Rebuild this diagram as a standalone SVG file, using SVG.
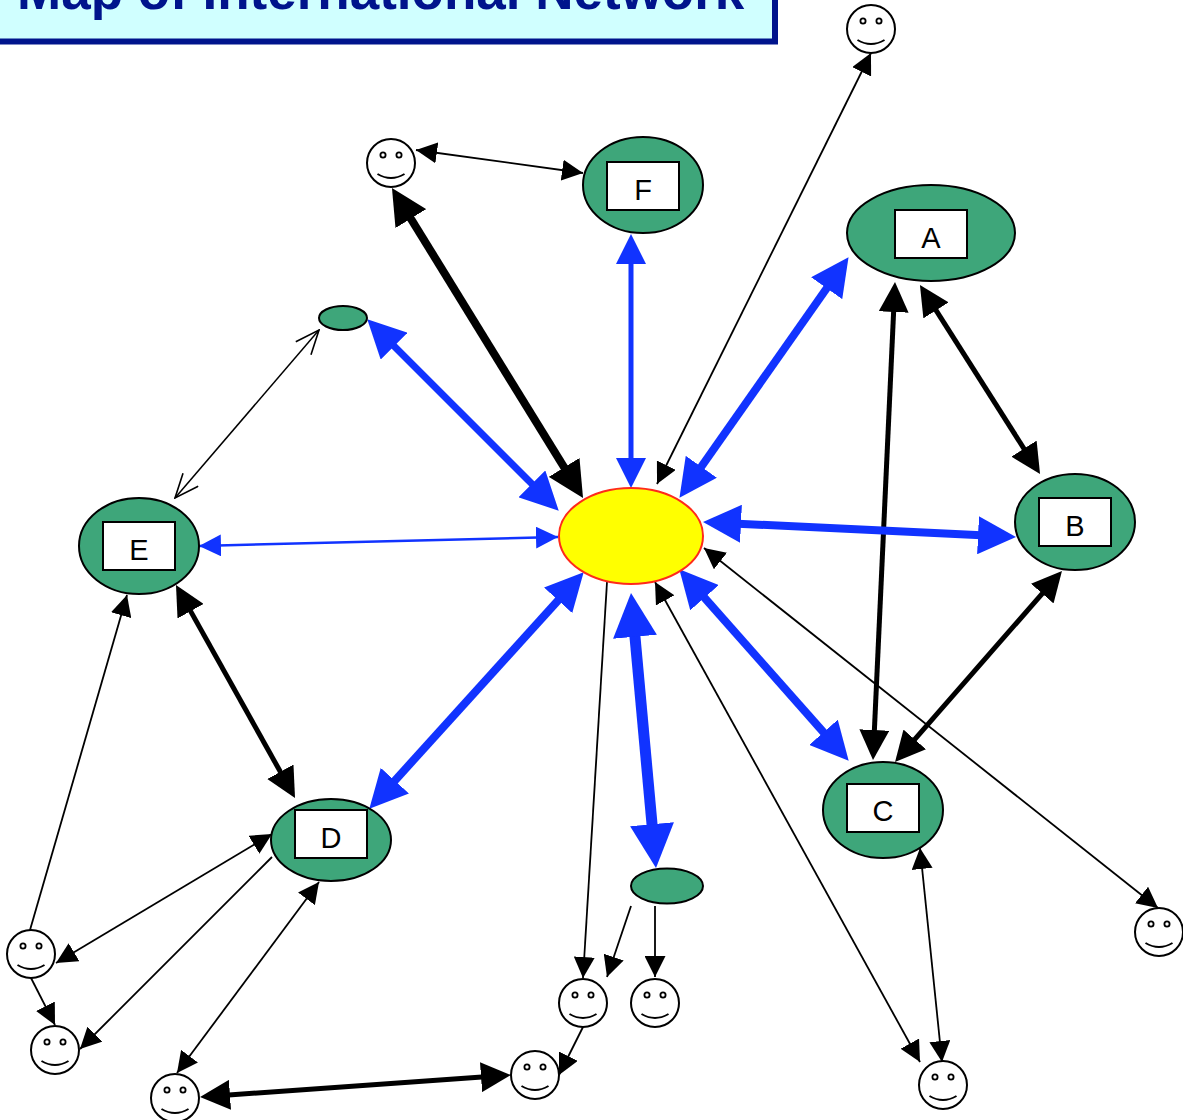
<svg xmlns="http://www.w3.org/2000/svg" width="1183" height="1120" viewBox="0 0 1183 1120">
<style>
.n{fill:#3ea67a;stroke:#000;stroke-width:2}
.b{fill:#fff;stroke:#000;stroke-width:2}
.t{font-family:"Liberation Sans",Arial,sans-serif;font-size:29px;fill:#000;text-anchor:middle}
.k{fill:none;stroke:#000}
.u{fill:none;stroke:#1133ff}
.s{stroke-width:1.8;marker-end:url(#k20);marker-start:url(#k20)}
.o{stroke-width:1.8;marker-end:url(#k20)}
.m{stroke-width:5;marker-end:url(#k30);marker-start:url(#k30)}
</style>
<defs>
<marker id="k20" markerUnits="userSpaceOnUse" markerWidth="21" markerHeight="21" viewBox="0 0 20 20" refX="20" refY="10" orient="auto-start-reverse"><path d="M0 0L20 10L0 20z" fill="#000"/></marker>
<marker id="k30" markerUnits="userSpaceOnUse" markerWidth="30" markerHeight="30" viewBox="0 0 30 30" refX="15" refY="15" orient="auto-start-reverse"><path d="M0 0L30 15L0 30z" fill="#000"/></marker>
<marker id="k36" markerUnits="userSpaceOnUse" markerWidth="36" markerHeight="36" viewBox="0 0 36 36" refX="18" refY="18" orient="auto-start-reverse"><path d="M0 0L36 18L0 36z" fill="#000"/></marker>
<marker id="u20" markerUnits="userSpaceOnUse" markerWidth="22" markerHeight="22" viewBox="0 0 20 20" refX="20" refY="10" orient="auto-start-reverse"><path d="M0 0L20 10L0 20z" fill="#1133ff"/></marker>
<marker id="u30" markerUnits="userSpaceOnUse" markerWidth="30" markerHeight="30" viewBox="0 0 30 30" refX="15" refY="15" orient="auto-start-reverse"><path d="M0 0L30 15L0 30z" fill="#1133ff"/></marker>
<marker id="u36" markerUnits="userSpaceOnUse" markerWidth="38" markerHeight="38" viewBox="0 0 36 36" refX="18" refY="18" orient="auto-start-reverse"><path d="M0 0L36 18L0 36z" fill="#1133ff"/></marker>
<marker id="u44" markerUnits="userSpaceOnUse" markerWidth="44" markerHeight="44" viewBox="0 0 44 44" refX="22" refY="22" orient="auto-start-reverse"><path d="M0 0L44 22L0 44z" fill="#1133ff"/></marker>
<marker id="open" markerUnits="userSpaceOnUse" markerWidth="26" markerHeight="22" viewBox="0 0 26 22" refX="25" refY="11" orient="auto-start-reverse"><path d="M1 1L25 11L1 21" fill="none" stroke="#000" stroke-width="1.6"/></marker>
<g id="smile">
<circle r="24" fill="#fff" stroke="#000" stroke-width="2"/>
<circle cx="-8" cy="-8" r="2.600" fill="#fff" stroke="#000" stroke-width="1.800"/>
<circle cx="8" cy="-8" r="2.600" fill="#fff" stroke="#000" stroke-width="1.800"/>
<path d="M-13.500 11Q0 19 13.500 11" fill="none" stroke="#000" stroke-width="2"/>
</g>
</defs>
<g id="title">
<rect x="-6" y="-30" width="781" height="71.500" fill="#d0ffff" stroke="#00148c" stroke-width="6"/>
<text x="17" y="9" font-family="'Liberation Sans',Arial,sans-serif" font-size="53" font-weight="bold" fill="#00148c">Map of International Network</text>
</g>
<g id="connectors">
<line class="k s" x1="416" y1="150" x2="583" y2="173"/>
<line class="k s" x1="871" y1="53" x2="657" y2="484"/>
<line class="k s" x1="704" y1="548" x2="1158" y2="908"/>
<line class="k s" x1="655" y1="582" x2="920" y2="1062"/>
<line class="k s" x1="920" y1="848" x2="942" y2="1062"/>
<line class="k" stroke-width="1.800" marker-start="url(#k20)" x1="127" y1="595" x2="30" y2="930"/>
<line class="k s" x1="272" y1="834" x2="56" y2="963"/>
<line class="k o" x1="272" y1="857" x2="80" y2="1049"/>
<line class="k s" x1="319" y1="882" x2="177" y2="1073"/>
<line class="k o" x1="31" y1="978" x2="55" y2="1025"/>
<line class="k o" x1="607" y1="582" x2="583" y2="978"/>
<line class="k o" x1="631" y1="906" x2="607" y2="977"/>
<line class="k o" x1="655" y1="906" x2="655" y2="977"/>
<line class="k o" x1="583" y1="1027" x2="559" y2="1075"/>
<line class="k" stroke-width="1.500" marker-start="url(#open)" marker-end="url(#open)" x1="319" y1="330" x2="175" y2="498"/>
<line class="k m" x1="894.300" y1="297" x2="873.700" y2="745"/>
<line class="k m" x1="928" y1="297.700" x2="1032" y2="461.300"/>
<line class="k m" x1="1052.100" y1="582.300" x2="904.900" y2="750.700"/>
<line class="k m" x1="183.300" y1="598.100" x2="287.700" y2="784.900"/>
<line class="k m" x1="215" y1="1095.900" x2="496" y2="1076.100"/>
<line class="k" stroke-width="8" marker-start="url(#k36)" marker-end="url(#k36)" x1="401.400" y1="203.300" x2="573.600" y2="482.700"/>
<line class="u" stroke-width="2.500" marker-start="url(#u20)" marker-end="url(#u20)" x1="199" y1="546" x2="558" y2="537"/>
<line class="u" stroke-width="5" marker-start="url(#u30)" marker-end="url(#u30)" x1="631" y1="249" x2="631" y2="473"/>
<line class="u" stroke-width="8" marker-start="url(#u36)" marker-end="url(#u36)" x1="837.600" y1="272.700" x2="690.400" y2="482.300"/>
<line class="u" stroke-width="7" marker-start="url(#u36)" marker-end="url(#u36)" x1="380.700" y1="332.700" x2="545.300" y2="497.300"/>
<line class="u" stroke-width="8" marker-start="url(#u36)" marker-end="url(#u36)" x1="722" y1="522.900" x2="997" y2="536.100"/>
<line class="u" stroke-width="8" marker-start="url(#u36)" marker-end="url(#u36)" x1="570.900" y1="586.300" x2="382.100" y2="794.700"/>
<line class="u" stroke-width="8" marker-start="url(#u36)" marker-end="url(#u36)" x1="691.900" y1="583.500" x2="836.100" y2="746.500"/>
<line class="u" stroke-width="11" marker-start="url(#u44)" marker-end="url(#u44)" x1="633" y1="614.900" x2="654" y2="846.100"/>
</g>
<g id="hub"><ellipse cx="631" cy="536" rx="72" ry="48" fill="#ffff00" stroke="#ff2a1a" stroke-width="2"/></g>
<g id="node-a"><ellipse class="n" cx="931" cy="233" rx="84" ry="48"/><rect class="b" x="895" y="210" width="72" height="48"/><text class="t" x="931" y="248">A</text></g>
<g id="node-b"><ellipse class="n" cx="1075" cy="522" rx="60" ry="48"/><rect class="b" x="1039" y="498" width="72" height="48"/><text class="t" x="1075" y="536">B</text></g>
<g id="node-c"><ellipse class="n" cx="883" cy="810" rx="60" ry="48"/><rect class="b" x="847" y="784" width="72" height="48"/><text class="t" x="883" y="821">C</text></g>
<g id="node-d"><ellipse class="n" cx="331" cy="840" rx="60" ry="41"/><rect class="b" x="295" y="810" width="72" height="48"/><text class="t" x="331" y="848">D</text></g>
<g id="node-e"><ellipse class="n" cx="139" cy="546" rx="60" ry="48"/><rect class="b" x="103" y="522" width="72" height="48"/><text class="t" x="139" y="560">E</text></g>
<g id="node-f"><ellipse class="n" cx="643" cy="185" rx="60" ry="48"/><rect class="b" x="607" y="162" width="72" height="48"/><text class="t" x="643" y="200">F</text></g>
<g id="small-1"><ellipse class="n" cx="343" cy="318" rx="24" ry="12"/></g>
<g id="small-2"><ellipse class="n" cx="667" cy="886" rx="36" ry="17.500"/></g>
<g id="p1"><use href="#smile" x="871" y="29"/></g>
<g id="p2"><use href="#smile" x="391" y="163"/></g>
<g id="p3"><use href="#smile" x="1159" y="932"/></g>
<g id="p4"><use href="#smile" x="31" y="954"/></g>
<g id="p5"><use href="#smile" x="55" y="1050"/></g>
<g id="p6"><use href="#smile" x="175" y="1098"/></g>
<g id="p7"><use href="#smile" x="535" y="1075"/></g>
<g id="p8"><use href="#smile" x="583" y="1003"/></g>
<g id="p9"><use href="#smile" x="655" y="1003"/></g>
<g id="p10"><use href="#smile" x="943" y="1085"/></g>
</svg>
